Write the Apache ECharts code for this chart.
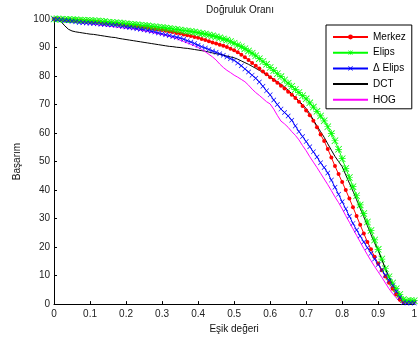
<!DOCTYPE html>
<html><head><meta charset="utf-8">
<script src="https://cdn.jsdelivr.net/npm/echarts@6/dist/echarts.min.js"></script>
<style>html,body{margin:0;padding:0;background:#fff}#c{width:420px;height:339px}</style>
</head><body><div id="c"></div>
<script>
const xs = [0,0.01,0.02,0.03,0.04,0.05,0.06,0.07,0.08,0.09,0.1,0.11,0.12,0.13,0.14,0.15,0.16,0.17,0.18,0.19,0.2,0.21,0.22,0.23,0.24,0.25,0.26,0.27,0.28,0.29,0.3,0.31,0.32,0.33,0.34,0.35,0.36,0.37,0.38,0.39,0.4,0.41,0.42,0.43,0.44,0.45,0.46,0.47,0.48,0.49,0.5,0.51,0.52,0.53,0.54,0.55,0.56,0.57,0.58,0.59,0.6,0.61,0.62,0.63,0.64,0.65,0.66,0.67,0.68,0.69,0.7,0.71,0.72,0.73,0.74,0.75,0.76,0.77,0.78,0.79,0.8,0.81,0.82,0.83,0.84,0.85,0.86,0.87,0.88,0.89,0.9,0.91,0.92,0.93,0.94,0.95,0.96,0.97,0.98,0.99,1];
const merkez = [100,100,99.8,99.7,99.6,99.6,99.5,99.5,99.4,99.3,99.2,99.1,99.0,98.9,98.7,98.6,98.5,98.4,98.2,98.1,97.9,97.8,97.6,97.5,97.3,97.1,96.9,96.7,96.5,96.3,96.1,95.9,95.6,95.4,95.1,94.9,94.6,94.3,94.0,93.7,93.4,93.0,92.6,92.2,91.8,91.4,91.0,90.6,90.2,89.6,89.0,88.3,87.5,86.6,85.6,84.6,83.6,82.6,81.6,80.6,79.6,78.6,77.6,76.6,75.6,74.5,73.4,72.3,71.0,69.5,67.9,66.2,64.3,62.0,59.5,57.2,54.4,51.4,48.4,45.6,42.8,40.0,37.0,34.0,30.9,27.8,24.8,21.8,19.2,16.6,14.2,11.9,9.7,7.5,5.4,3.4,1.5,0.8,0.8,0.8,0.8];
const elips = [100,100,99.9,99.8,99.8,99.7,99.7,99.6,99.6,99.5,99.5,99.4,99.3,99.2,99.1,98.9,98.8,98.7,98.6,98.5,98.3,98.2,98.1,98.0,97.8,97.7,97.6,97.4,97.3,97.1,97.0,96.8,96.7,96.5,96.3,96.1,95.9,95.8,95.6,95.4,95.2,94.9,94.7,94.4,94.1,93.8,93.4,93.0,92.6,92.1,91.5,90.9,90.3,89.6,88.8,88.0,87.1,86.1,85.1,84.1,83.0,81.9,80.8,79.8,78.6,77.5,76.4,75.3,74.2,73.1,72.0,70.6,69.1,67.6,66.0,64.3,62.2,59.8,57.3,54.3,51.0,47.6,44.4,41.2,38.0,34.8,31.8,28.8,25.8,22.5,19.2,15.8,12.4,9.6,7.4,5.4,3.4,1.6,1.2,1.2,1.2];
const deltaElips = [100,99.8,99.7,99.5,99.4,99.2,99.0,98.8,98.7,98.6,98.5,98.4,98.3,98.2,98.1,98.0,97.9,97.8,97.6,97.4,97.2,97.0,96.8,96.6,96.4,96.2,96.0,95.7,95.4,95.1,94.8,94.5,94.2,93.9,93.6,93.3,92.9,92.4,91.9,91.4,90.8,90.3,89.8,89.3,88.8,88.3,87.8,87.3,86.7,86.1,85.5,84.6,83.6,82.5,81.4,80.3,79.2,77.9,76.4,74.8,73.4,71.6,70.0,68.4,67.2,66.0,64.5,62.5,60.5,58.8,57.0,55.2,53.4,51.6,49.6,47.9,46.0,43.5,41.0,38.5,35.9,33.4,30.8,28.3,26.0,23.9,21.8,19.8,17.8,15.8,13.9,12.0,10.1,8.3,6.4,4.4,2.3,0.5,0.4,0.4,0.4];
const dct = [100,99.6,99.0,97.6,96.4,95.8,95.5,95.3,95.1,94.9,94.7,94.6,94.4,94.2,94.0,93.8,93.6,93.5,93.2,93.0,92.8,92.6,92.4,92.2,92.0,91.8,91.6,91.4,91.2,91.0,90.8,90.6,90.4,90.3,90.1,90.0,89.8,89.7,89.5,89.3,89.1,88.9,88.7,88.4,88.1,87.8,87.6,87.3,87.0,86.7,86.4,85.9,85.3,84.7,84.1,83.4,82.7,82.0,81.3,80.5,79.7,78.8,78.0,77.1,76.2,75.0,73.8,72.5,71.2,70.0,68.6,66.8,64.6,62.5,60.5,58.5,56.2,54.0,51.8,50.0,48.2,45.3,42.4,39.6,36.6,33.6,30.6,27.5,24.4,21.4,18.8,15.6,12.4,9.4,6.8,4.6,2.6,0.6,0.3,0.3,0.3];
const hog = [99.8,99.6,99.4,99.2,99.1,99.0,98.8,98.7,98.5,98.4,98.3,98.1,98.0,97.8,97.7,97.5,97.4,97.2,97.1,96.9,96.8,96.6,96.5,96.3,96.1,95.8,95.6,95.3,95.1,94.8,94.5,94.2,93.9,93.5,93.1,92.6,92.1,91.6,91.1,90.6,90.0,89.3,88.5,87.6,86.7,85.6,84.2,83.0,82.0,81.2,80.3,79.6,78.8,78.0,76.8,75.4,74.2,73.2,72.1,71.0,70.2,68.4,66.2,64.2,63.2,62.0,60.5,59.2,57.6,55.6,53.8,51.7,49.8,47.9,45.9,43.9,41.9,39.8,37.6,35.6,33.4,31.0,28.7,26.4,24.1,21.8,19.5,17.3,15.2,13.2,11.3,9.4,7.4,5.4,3.7,2.2,0.8,0.2,0.2,0.2,0.2];
const seriesNames = ['Merkez','Elips','\u0394 Elips','DCT','HOG'];
const titleText = 'Do\u011fruluk Oran\u0131';
const xName = 'E\u015fik de\u011feri';
const yName = 'Ba\u015far\u0131m';

const pair = arr => xs.map((x,i)=>[x,arr[i]]);
const STAR = 'path://M4.5 0L5.5 0L5.5 10L4.5 10Z M0 4.5L10 4.5L10 5.5L0 5.5Z M0.8 0L10 9.2L9.2 10L0 0.8Z M9.2 0L10 0.8L0.8 10L0 9.2Z';
const XMARK = 'path://M0.9 0L10 9.1L9.1 10L0 0.9Z M9.1 0L10 0.9L0.9 10L0 9.1Z';
const font = 'Liberation Sans, Arial, sans-serif';

const chart = echarts.init(document.getElementById('c'), null, {renderer:'canvas'});
chart.setOption({
  animation:false,
  backgroundColor:'#fff',
  textStyle:{fontFamily:font},
  title:{text:titleText, left:235, top:0, textAlign:'center',
    textStyle:{fontSize:10, fontWeight:'normal', color:'#111', fontFamily:font}},
  grid:{left:54, right:5, top:19, bottom:34, containLabel:false},
  legend:{
    orient:'vertical', left:326, top:25,
    padding:[7,6,4,6], itemGap:5.7, itemWidth:35, itemHeight:6,
    borderColor:'#000', borderWidth:1, backgroundColor:'#fff',
    textStyle:{fontSize:10, color:'#000', fontFamily:font},
    data:[
      {name:seriesNames[0]},
      {name:seriesNames[1]},
      {name:seriesNames[2]},
      {name:seriesNames[3], itemStyle:{opacity:0}},
      {name:seriesNames[4], itemStyle:{opacity:0}}
    ]
  },
  xAxis:{type:'value', min:0, max:1, interval:0.1,
    name:xName, nameLocation:'middle', nameGap:19,
    nameTextStyle:{fontSize:10, color:'#111', fontFamily:font},
    axisLine:{lineStyle:{color:'#000', width:1}},
    axisTick:{inside:true, length:3, lineStyle:{color:'#000'}},
    axisLabel:{fontSize:10, color:'#222', margin:5, fontFamily:font},
    splitLine:{show:false}},
  yAxis:{type:'value', min:0, max:100, interval:10,
    name:yName, nameLocation:'middle', nameGap:25,
    nameTextStyle:{fontSize:10, color:'#111', fontFamily:font},
    axisLine:{show:true, lineStyle:{color:'#000', width:1}},
    axisTick:{show:true, inside:true, length:3, lineStyle:{color:'#000'}},
    axisLabel:{fontSize:10, color:'#222', margin:4, fontFamily:font},
    splitLine:{show:false}},
  series:[
    {name:seriesNames[0], type:'line', data:pair(merkez), symbol:'circle', symbolSize:4,
      showAllSymbol:true, lineStyle:{color:'#ff0000', width:1}, itemStyle:{color:'#ff0000'}},
    {name:seriesNames[1], type:'line', data:pair(elips), symbol:STAR, symbolSize:7,
      showAllSymbol:true, lineStyle:{color:'#00ff00', width:1}, itemStyle:{color:'#00ff00'}},
    {name:seriesNames[2], type:'line', data:pair(deltaElips), symbol:XMARK, symbolSize:5,
      showAllSymbol:true, lineStyle:{color:'#0000ff', width:1}, itemStyle:{color:'#0000ff'}},
    {name:seriesNames[3], type:'line', data:pair(dct), symbol:'none',
      lineStyle:{color:'#000000', width:1}, itemStyle:{color:'#000000'}},
    {name:seriesNames[4], type:'line', data:pair(hog), symbol:'none',
      lineStyle:{color:'#ff00ff', width:1}, itemStyle:{color:'#ff00ff'}}
  ]
});
</script></body></html>
